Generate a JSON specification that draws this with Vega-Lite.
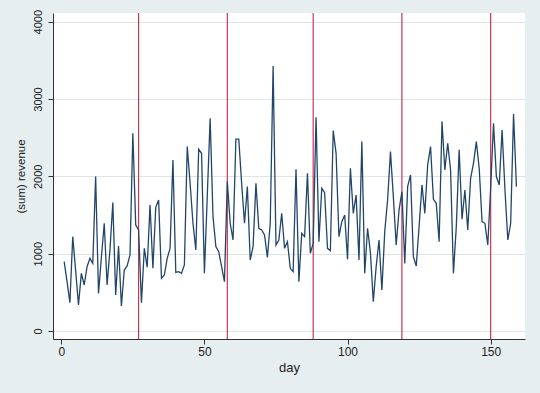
{
  "$schema": "https://vega.github.io/schema/vega-lite/v6.json",
  "width": 472,
  "height": 326,
  "autosize": "none",
  "padding": {"left": 53, "top": 13, "right": 15, "bottom": 54},
  "background": "#e7eef0",
  "config": {
    "view": {"fill": "white", "stroke": null},
    "font": "Liberation Sans"
  },
  "datasets": {
    "breaks": [{"day": 27}, {"day": 58}, {"day": 88}, {"day": 119}, {"day": 150}],
    "rev": [
      {"day":1,"revenue":897},{"day":2,"revenue":640},{"day":3,"revenue":367},{"day":4,"revenue":1220},{"day":5,"revenue":789},
      {"day":6,"revenue":336},{"day":7,"revenue":746},{"day":8,"revenue":595},{"day":9,"revenue":832},{"day":10,"revenue":940},
      {"day":11,"revenue":875},{"day":12,"revenue":1997},{"day":13,"revenue":487},{"day":14,"revenue":950},{"day":15,"revenue":1393},
      {"day":16,"revenue":595},{"day":17,"revenue":1050},{"day":18,"revenue":1660},{"day":19,"revenue":466},{"day":20,"revenue":1100},
      {"day":21,"revenue":323},{"day":22,"revenue":789},{"day":23,"revenue":841},{"day":24,"revenue":983},{"day":25,"revenue":2557},
      {"day":26,"revenue":1371},{"day":27,"revenue":1306},{"day":28,"revenue":367},{"day":29,"revenue":1069},{"day":30,"revenue":824},
      {"day":31,"revenue":1630},{"day":32,"revenue":811},{"day":33,"revenue":1600},{"day":34,"revenue":1695},{"day":35,"revenue":681},
      {"day":36,"revenue":724},{"day":37,"revenue":940},{"day":38,"revenue":1069},{"day":39,"revenue":2212},{"day":40,"revenue":759},
      {"day":41,"revenue":768},{"day":42,"revenue":746},{"day":43,"revenue":854},{"day":44,"revenue":2385},{"day":45,"revenue":1910},
      {"day":46,"revenue":1393},{"day":47,"revenue":1048},{"day":48,"revenue":2350},{"day":49,"revenue":2298},{"day":50,"revenue":746},
      {"day":51,"revenue":1745},{"day":52,"revenue":2751},{"day":53,"revenue":1479},{"day":54,"revenue":1091},{"day":55,"revenue":1026},
      {"day":56,"revenue":832},{"day":57,"revenue":638},{"day":58,"revenue":1932},{"day":59,"revenue":1393},{"day":60,"revenue":1177},
      {"day":61,"revenue":2480},{"day":62,"revenue":2480},{"day":63,"revenue":1910},{"day":64,"revenue":1393},{"day":65,"revenue":1867},
      {"day":66,"revenue":918},{"day":67,"revenue":1091},{"day":68,"revenue":1910},{"day":69,"revenue":1328},{"day":70,"revenue":1306},
      {"day":71,"revenue":1242},{"day":72,"revenue":953},{"day":73,"revenue":1393},{"day":74,"revenue":3428},{"day":75,"revenue":1112},
      {"day":76,"revenue":1177},{"day":77,"revenue":1522},{"day":78,"revenue":1069},{"day":79,"revenue":1155},{"day":80,"revenue":811},
      {"day":81,"revenue":768},{"day":82,"revenue":2091},{"day":83,"revenue":638},{"day":84,"revenue":1263},{"day":85,"revenue":1220},
      {"day":86,"revenue":2040},{"day":87,"revenue":1005},{"day":88,"revenue":1134},{"day":89,"revenue":2764},{"day":90,"revenue":1155},
      {"day":91,"revenue":1846},{"day":92,"revenue":1790},{"day":93,"revenue":1069},{"day":94,"revenue":1039},{"day":95,"revenue":2592},
      {"day":96,"revenue":2298},{"day":97,"revenue":1220},{"day":98,"revenue":1414},{"day":99,"revenue":1500},{"day":100,"revenue":927},
      {"day":101,"revenue":2104},{"day":102,"revenue":1522},{"day":103,"revenue":1759},{"day":104,"revenue":918},{"day":105,"revenue":2449},
      {"day":106,"revenue":746},{"day":107,"revenue":1328},{"day":108,"revenue":1013},{"day":109,"revenue":379},{"day":110,"revenue":832},
      {"day":111,"revenue":1177},{"day":112,"revenue":530},{"day":113,"revenue":1285},{"day":114,"revenue":1695},{"day":115,"revenue":2320},
      {"day":116,"revenue":1738},{"day":117,"revenue":1112},{"day":118,"revenue":1565},{"day":119,"revenue":1802},{"day":120,"revenue":875},
      {"day":121,"revenue":1867},{"day":122,"revenue":2018},{"day":123,"revenue":962},{"day":124,"revenue":841},{"day":125,"revenue":1350},
      {"day":126,"revenue":1889},{"day":127,"revenue":1522},{"day":128,"revenue":2148},{"day":129,"revenue":2385},{"day":130,"revenue":1703},
      {"day":131,"revenue":1652},{"day":132,"revenue":1155},{"day":133,"revenue":2708},{"day":134,"revenue":2083},{"day":135,"revenue":2428},
      {"day":136,"revenue":2083},{"day":137,"revenue":746},{"day":138,"revenue":1350},{"day":139,"revenue":2342},{"day":140,"revenue":1445},
      {"day":141,"revenue":1824},{"day":142,"revenue":1306},{"day":143,"revenue":1975},{"day":144,"revenue":2169},{"day":145,"revenue":2449},
      {"day":146,"revenue":2104},{"day":147,"revenue":1414},{"day":148,"revenue":1393},{"day":149,"revenue":1112},{"day":150,"revenue":1850},
      {"day":151,"revenue":2687},{"day":152,"revenue":1997},{"day":153,"revenue":1889},{"day":154,"revenue":2600},{"day":155,"revenue":1824},
      {"day":156,"revenue":1177},{"day":157,"revenue":1393},{"day":158,"revenue":2807},{"day":159,"revenue":1867}
    ]
  },
  "layer": [
    {
      "data": {"name": "breaks"},
      "mark": {"type": "rule", "color": "#c93650", "strokeWidth": 1.2},
      "encoding": {
        "x": {"field": "day", "type": "quantitative", "scale": {"domain": [-2.9, 162], "nice": false, "zero": false}}
      }
    },
    {
      "data": {"name": "rev"},
      "mark": {"type": "line", "color": "#22456a", "strokeWidth": 1.3},
      "encoding": {
        "x": {
          "field": "day", "type": "quantitative",
          "scale": {"domain": [-2.9, 162], "nice": false, "zero": false},
          "axis": {
            "title": "day", "values": [0, 50, 100, 150], "format": "d", "grid": false,
            "domainColor": "#333333", "tickColor": "#333333", "tickSize": 5,
            "labelFontSize": 12, "labelColor": "#222222", "labelPadding": 2,
            "titleFontSize": 13, "titleFontWeight": "normal", "titleColor": "#222222", "titlePadding": 4
          }
        },
        "y": {
          "field": "revenue", "type": "quantitative",
          "scale": {"domain": [-103, 4112], "nice": false, "zero": false},
          "axis": {
            "title": "(sum) revenue", "values": [0, 1000, 2000, 3000, 4000], "format": "d",
            "grid": true, "gridColor": "#dde5e8", "gridWidth": 1,
            "domainColor": "#333333", "tickColor": "#333333", "tickSize": 5,
            "labelAngle": -90, "labelAlign": "center", "labelBaseline": "bottom",
            "labelFontSize": 11, "labelColor": "#222222", "labelPadding": 5,
            "titleFontSize": 11.5, "titleFontWeight": "normal", "titleColor": "#222222", "titlePadding": 6
          }
        }
      }
    }
  ]
}
